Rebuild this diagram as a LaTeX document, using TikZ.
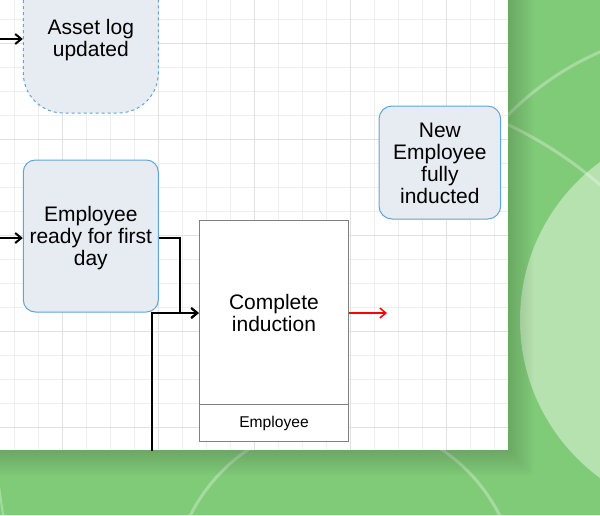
\documentclass[tikz,border=0pt]{standalone}
\usepackage{fontspec}
\setmainfont{Liberation Sans}
\usetikzlibrary{arrows.meta}
\definecolor{bggreen}{RGB}{128,203,120}
\definecolor{lightgreen}{RGB}{181,226,174}
\definecolor{boxfill}{RGB}{230,236,242}
\definecolor{boxline}{RGB}{95,165,220}
\definecolor{gridminor}{RGB}{238,238,238}
\definecolor{gridmajor}{RGB}{225,225,225}
\definecolor{taskline}{RGB}{128,128,128}
\tikzset{
  ring/.style={white, opacity=0.3, line width=3pt},
  softbox/.style={draw=boxline, fill=boxfill, line width=1pt, inner sep=0pt},
  taskbox/.style={draw=taskline, fill=white, line width=1pt, inner sep=0pt},
  txt/.style={align=center, inner sep=0pt, font=\fontsize{21}{22}\selectfont},
  smalltxt/.style={align=center, inner sep=0pt, font=\fontsize{15.6}{18}\selectfont},
  conn/.style={draw=black, line width=2pt, -{Straight Barb[length=6pt,width=10pt]}},
  redconn/.style={draw=red, line width=1.5pt, -{Straight Barb[length=6pt,width=10pt]}},
}
\begin{document}
\begin{tikzpicture}[x=1pt,y=-1pt]
\useasboundingbox (0,0) rectangle (600,515);
% background
\fill[bggreen] (0,0) rectangle (600,515);
\begin{scope}
  \clip (0,0) rectangle (600,515);
  \fill[lightgreen] (716,320) circle[radius=196];
  \draw[ring] (345,593) circle[radius=173];
  \draw[ring] (335,491) circle[radius=405];
  \begin{scope}
    \clip (0,0) rectangle (600,440);
    \draw[ring] (716,320) circle[radius=292];
  \end{scope}
  \draw[ring, line width=2pt] (-1,486) -- (3,515);
  % shadow of the panel
  \foreach \i in {1,...,10}
    \fill[black, opacity=0.015, rounded corners=2pt] (-30,-30) rectangle (508+2.5*\i, 450+2.5*\i);
\end{scope}
% panel
\fill[white] (0,0) rectangle (508,450);
\begin{scope}
  \clip (0,0) rectangle (508,450);
  \foreach \x in {14,38,...,494} \draw[gridminor, line width=1pt] (\x,0) -- (\x,450);
  \foreach \y in {19,43,...,443} \draw[gridminor, line width=1pt] (0,\y) -- (508,\y);
  \foreach \x in {62,158,254,350,446} \draw[gridmajor, line width=1pt] (\x,0) -- (\x,450);
  \foreach \y in {43,139,235,331,427} \draw[gridmajor, line width=1pt] (0,\y) -- (508,\y);

  % Asset log updated
  \node[softbox, dashed, dash pattern=on 3pt off 3pt, rounded corners=40pt,
        minimum width=135pt, minimum height=173pt] (asset) at (90.8,26.5) {};
  \node[txt] (assettxt) at (90.8,40.5) {Asset log\\updated};

  % Employee ready for first day
  \node[softbox, rounded corners=12pt, minimum width=135pt, minimum height=152pt] (ready) at (90.8,236) {};
  \node[txt] (readytxt) at (90.8,238.5) {Employee\\ready for first\\day};

  % New Employee fully inducted
  \node[softbox, rounded corners=13pt, minimum width=121.7pt, minimum height=113pt] (done) at (439.85,162.5) {};
  \node[txt] (donetxt) at (439.85,163) {New\\Employee\\fully\\inducted};

  % Complete induction
  \node[taskbox, minimum width=149.4pt, minimum height=220.3pt] (task) at (274,330.85) {};
  \draw[taskline, line width=1pt] ([yshift=37.3pt]task.south west) -- ([yshift=37.3pt]task.south east);
  \node[txt] (tasktxt) at (274,313) {Complete\\induction};
  \node[smalltxt] (lanetxt) at (274,423.5) {Employee};

  % connectors
  \coordinate (ain) at (-2,39);
  \coordinate (rin) at (-2,238);
  \coordinate (lvl) at (0,313);
  \coordinate (bend) at (180,313);
  \coordinate (bot) at (152,452);
  \coordinate (redend) at (387,313);
  \draw[conn] (ain) -- (ain -| asset.west);
  \draw[conn] (rin) -- (rin -| ready.west);
  \draw[conn] (ready.east |- rin) -| (bend) -- (task.west |- lvl);
  \draw[conn] (bot) |- (task.west |- lvl);
  \draw[redconn] (task.east |- lvl) -- (redend);
\end{scope}
\end{tikzpicture}
\end{document}
